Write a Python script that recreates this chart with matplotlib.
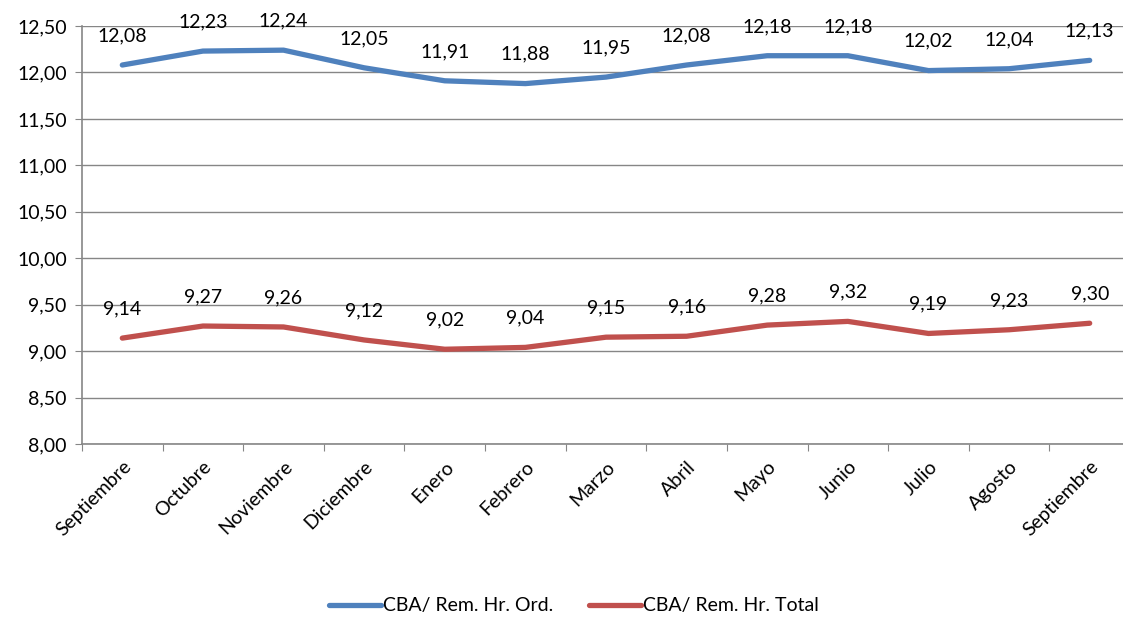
import matplotlib.pyplot as plt
from matplotlib.ticker import FuncFormatter

meses = ["Septiembre", "Octubre", "Noviembre", "Diciembre", "Enero", "Febrero",
         "Marzo", "Abril", "Mayo", "Junio", "Julio", "Agosto", "Septiembre"]
rem_ord = [12.08, 12.23, 12.24, 12.05, 11.91, 11.88, 11.95, 12.08, 12.18, 12.18,
           12.02, 12.04, 12.13]
rem_total = [9.14, 9.27, 9.26, 9.12, 9.02, 9.04, 9.15, 9.16, 9.28, 9.32, 9.19,
             9.23, 9.30]
y_ticks = [8.0, 8.5, 9.0, 9.5, 10.0, 10.5, 11.0, 11.5, 12.0, 12.5]

BLUE = "#4F81BD"
RED = "#C0504D"
GRID = "#868686"
FS = 14

plt.rcParams["font.family"] = ["Lato", "DejaVu Sans"]
plt.rcParams["font.size"] = FS

fig = plt.figure(figsize=(11.23, 6.18), dpi=100)
ax = fig.add_axes([82 / 1123, 1 - 444 / 618, 1048 / 1123, 418 / 618])

x = list(range(len(meses)))
ax.plot(x, rem_ord, color=BLUE, lw=3.8, solid_capstyle="round",
        label="CBA/ Rem. Hr. Ord.")
ax.plot(x, rem_total, color=RED, lw=3.8, solid_capstyle="round",
        label="CBA/ Rem. Hr. Total")

fmt = lambda v: f"{v:.2f}".replace(".", ",")
for xi, v in zip(x, rem_ord):
    ax.annotate(fmt(v), (xi, v), xytext=(0, 15), textcoords="offset points",
                ha="center", va="bottom", fontsize=FS)
for xi, v in zip(x, rem_total):
    ax.annotate(fmt(v), (xi, v), xytext=(0, 15), textcoords="offset points",
                ha="center", va="bottom", fontsize=FS)

ax.set_xlim(-0.5, len(meses) - 0.5)
ax.set_ylim(8.0, 12.5)
ax.set_yticks(y_ticks)
ax.yaxis.set_major_formatter(FuncFormatter(lambda v, _: fmt(v)))
ax.grid(axis="y", color=GRID, lw=1.0)
ax.set_axisbelow(True)

ax.set_xticks([i - 0.5 for i in range(len(meses) + 1)])
ax.set_xticklabels([])
ax.set_xticks(x, minor=True)
ax.set_xticklabels(meses, minor=True, rotation=45, ha="right",
                   rotation_mode="anchor")
ax.tick_params(axis="x", which="major", length=5, color=GRID, direction="out")
ax.tick_params(axis="x", which="minor", length=0, pad=10)
ax.tick_params(axis="y", length=5, color=GRID, pad=6)

for s in ["top", "right"]:
    ax.spines[s].set_visible(False)
for s in ["left", "bottom"]:
    ax.spines[s].set_color(GRID)
    ax.spines[s].set_linewidth(1.2)

fig.legend(loc="center", bbox_to_anchor=(0.511, 1 - 606 / 618), ncol=2,
           frameon=False, handlelength=2.7, columnspacing=1.8, handletextpad=0.1,
           fontsize=FS)

fig.savefig("out.png", dpi=100)
